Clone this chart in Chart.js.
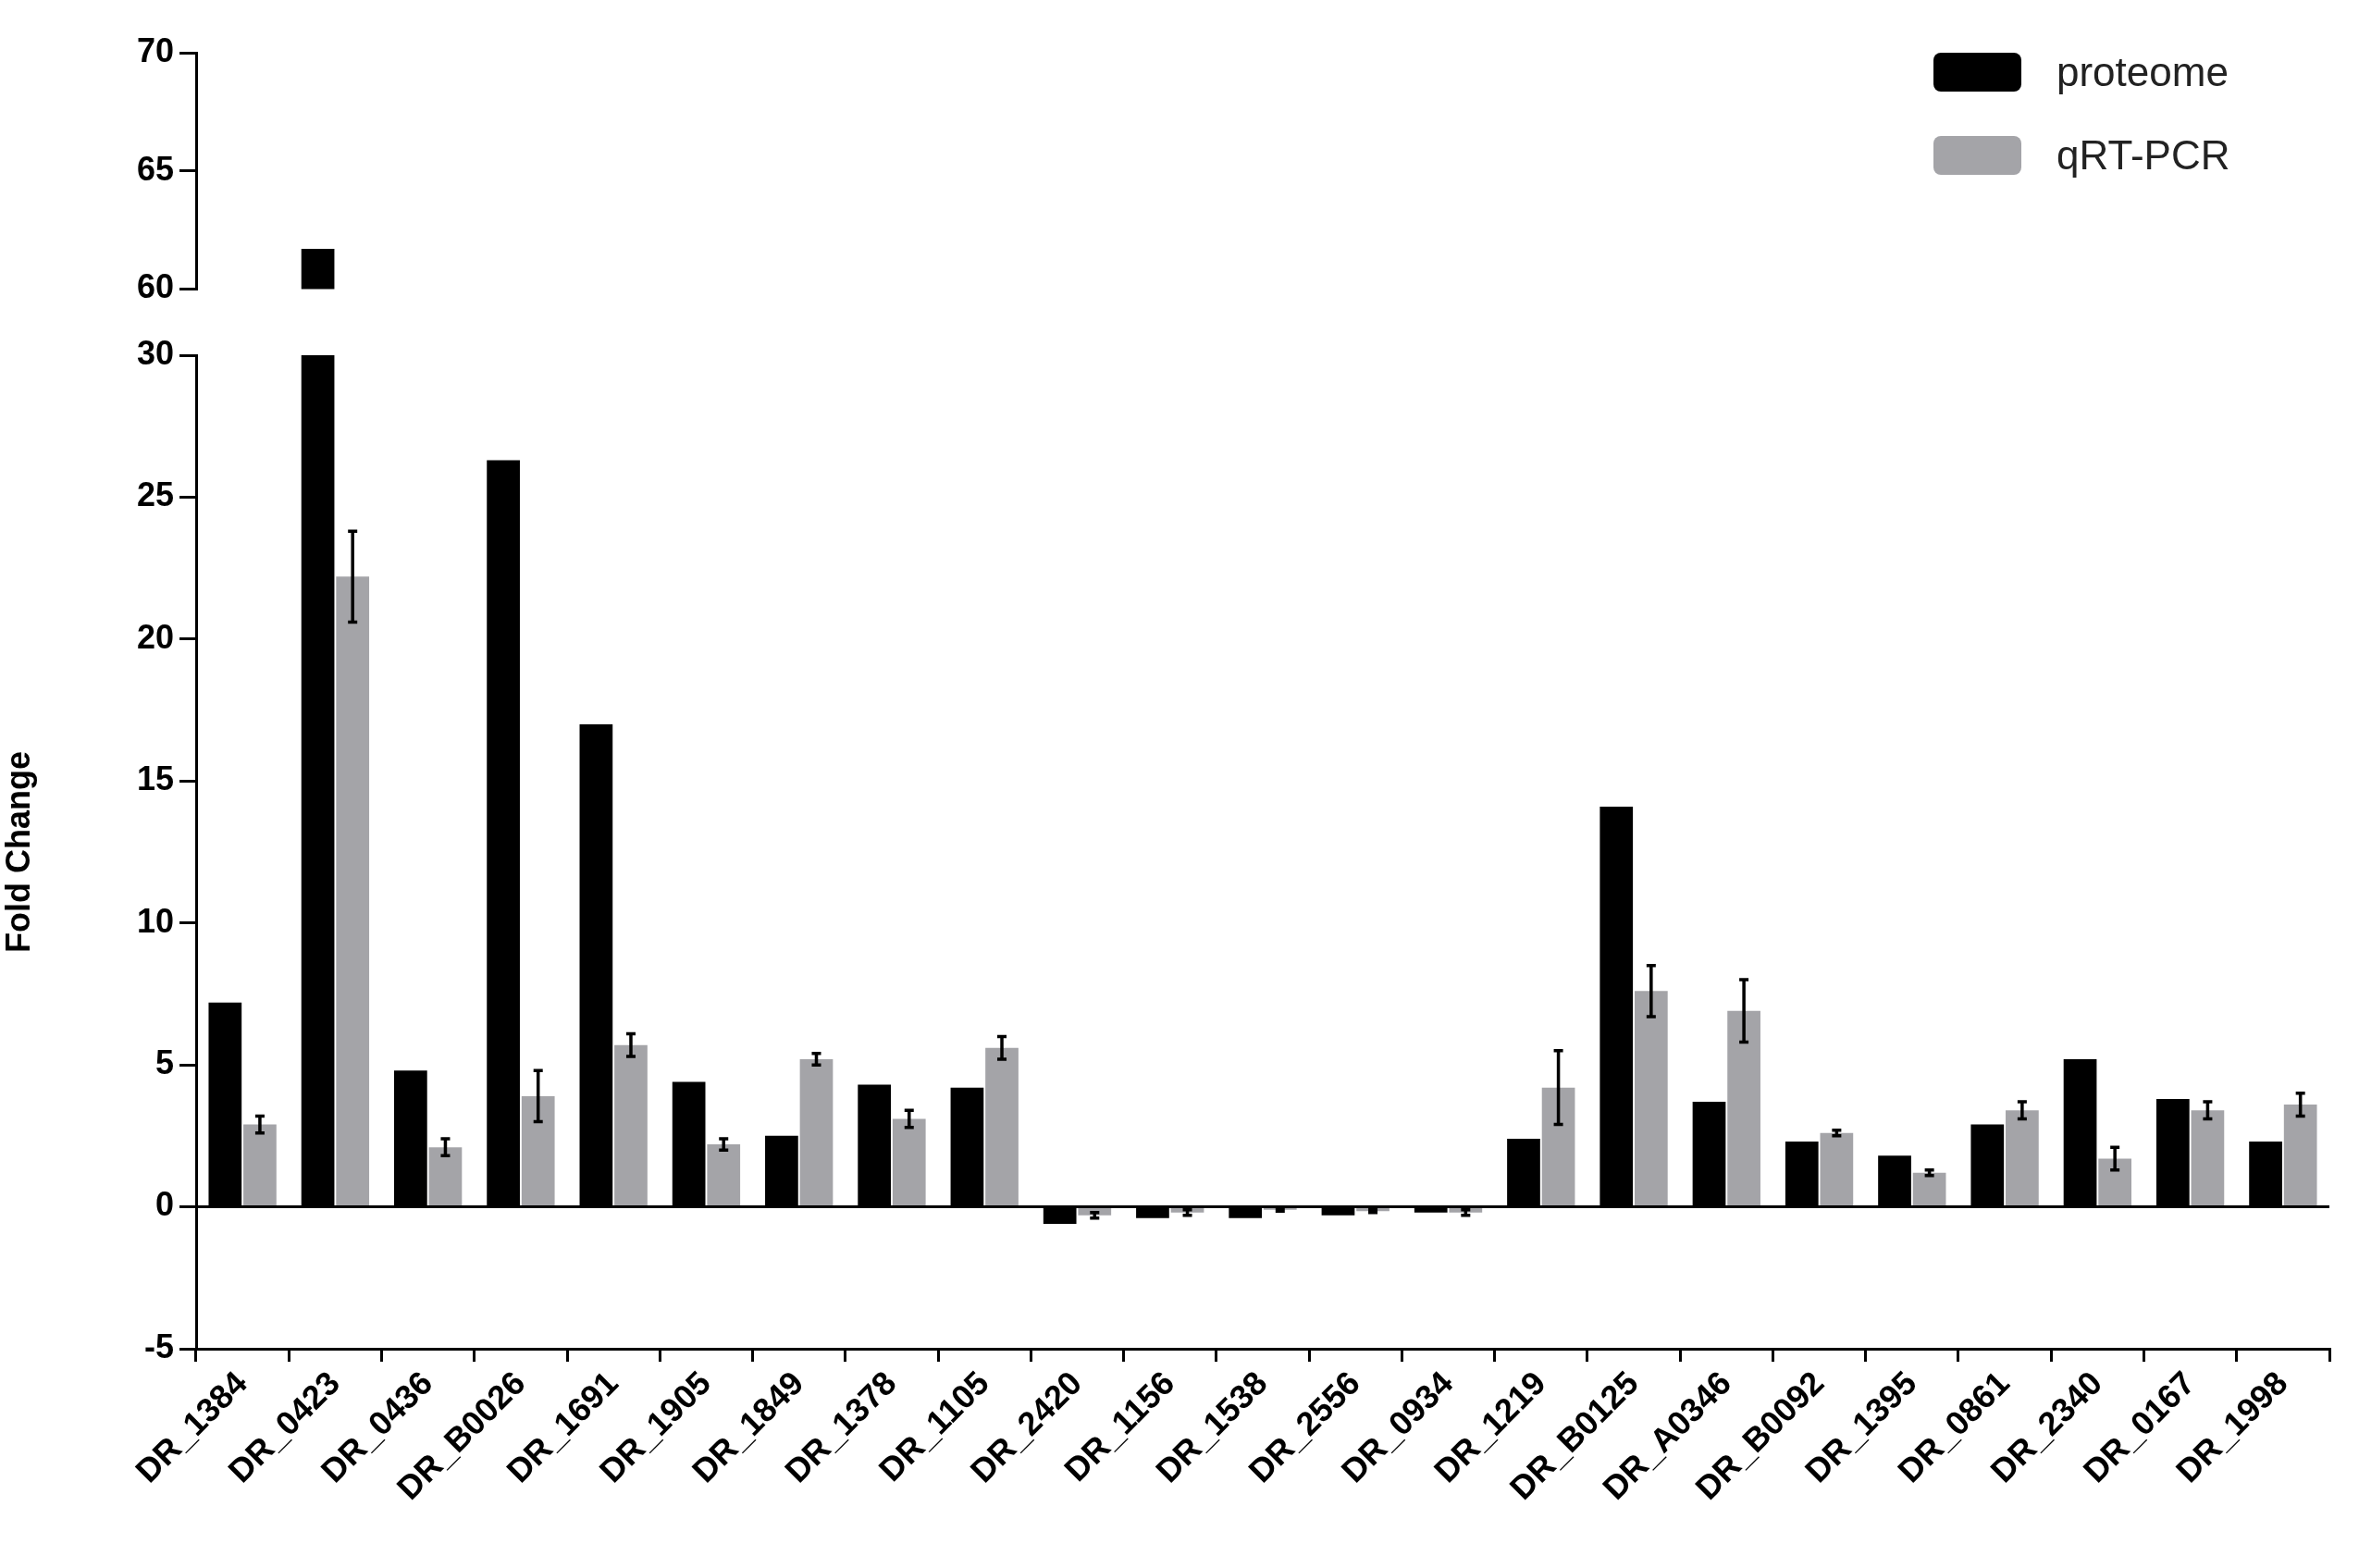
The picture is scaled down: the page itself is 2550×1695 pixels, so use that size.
<!DOCTYPE html>
<html><head><meta charset="utf-8">
<script src="https://cdn.jsdelivr.net/npm/chart.js@4"></script>
<style>
body{margin:0;background:#fff;font-family:"Liberation Sans",Arial,sans-serif}
#wrap{position:relative;width:2550px;height:1695px}
#c1{position:absolute;left:0;top:0}
#c2{position:absolute;left:0;top:340px}
#legend{position:absolute;left:2090px;top:48px;font-size:44px;color:#222}
#legend div{display:flex;align-items:center;height:104px}
#legend span.sw{display:inline-block;width:95px;height:42px;border-radius:8px;margin-right:38px}
</style></head><body>
<div id="wrap">
<canvas id="c1" width="2550" height="340"></canvas>
<canvas id="c2" width="2550" height="1355"></canvas>
<div id="legend">
<div style="height:60px"><span class="sw" style="background:#000"></span>proteome</div>
<div style="height:120px"><span class="sw" style="background:#a4a4a8"></span>qRT-PCR</div>
</div>
</div>
<script>
const genes = ["DR_1384","DR_0423","DR_0436","DR_B0026","DR_1691","DR_1905","DR_1849","DR_1378","DR_1105","DR_2420","DR_1156","DR_1538","DR_2556","DR_0934","DR_1219","DR_B0125","DR_A0346","DR_B0092","DR_1395","DR_0861","DR_2340","DR_0167","DR_1998"];
const proteome = [7.2,61.7,4.8,26.3,17.0,4.4,2.5,4.3,4.2,-0.6,-0.4,-0.4,-0.3,-0.2,2.4,14.1,3.7,2.3,1.8,2.9,5.2,3.8,2.3];
const qpcr = [2.9,22.2,2.1,3.9,5.7,2.2,5.2,3.1,5.6,-0.3,-0.2,-0.1,-0.15,-0.2,4.2,7.6,6.9,2.6,1.2,3.4,1.7,3.4,3.6];
const qpcrErr = [0.3,1.6,0.3,0.9,0.4,0.2,0.2,0.3,0.4,0.1,0.1,0.05,0.05,0.1,1.3,0.9,1.1,0.1,0.1,0.3,0.4,0.3,0.4];

const font = {family:"'Liberation Sans', Arial, sans-serif", size:36, weight:"bold"};

function datasets() {
  return [
    {label:"proteome", data:proteome, backgroundColor:"#000", categoryPercentage:0.75, barPercentage:0.95},
    {label:"qRT-PCR", data:qpcr, backgroundColor:"#a4a4a8", categoryPercentage:0.75, barPercentage:0.95}
  ];
}

const errorBars = {
  id:"errorBars",
  afterDatasetsDraw(chart) {
    const ctx = chart.ctx, y = chart.scales.y, meta = chart.getDatasetMeta(1);
    ctx.save();
    ctx.strokeStyle = "#000"; ctx.lineWidth = 3.5;
    meta.data.forEach((bar, i) => {
      const hi = y.getPixelForValue(qpcr[i] + qpcrErr[i]);
      const lo = y.getPixelForValue(qpcr[i] - qpcrErr[i]);
      ctx.beginPath();
      ctx.moveTo(bar.x, hi); ctx.lineTo(bar.x, lo);
      ctx.moveTo(bar.x - 5, hi); ctx.lineTo(bar.x + 5, hi);
      ctx.moveTo(bar.x - 5, lo); ctx.lineTo(bar.x + 5, lo);
      ctx.stroke();
    });
    ctx.restore();
  }
};

const zeroLine = {
  id:"zeroLine",
  afterDatasetsDraw(chart) {
    const ctx = chart.ctx, y = chart.scales.y, a = chart.chartArea;
    const p = y.getPixelForValue(0);
    ctx.save(); ctx.strokeStyle = "#000"; ctx.lineWidth = 3;
    ctx.beginPath(); ctx.moveTo(a.left, p); ctx.lineTo(a.right, p); ctx.stroke();
    ctx.restore();
  }
};

const yBase = {
  afterFit(s) { s.width = 212; },
  grid:{display:true, drawOnChartArea:false, color:"#000", lineWidth:3, tickLength:18},
  border:{color:"#000", width:3},
  ticks:{color:"#000", font:font, stepSize:5, padding:6}
};

new Chart(document.getElementById("c1"), {
  type:"bar",
  data:{labels:genes, datasets:datasets()},
  options:{
    responsive:false, animation:false, devicePixelRatio:1,
    layout:{padding:{top:57, bottom:13, right:32, left:0}},
    plugins:{legend:{display:false}, tooltip:{enabled:false}},
    scales:{
      x:{display:false},
      y:Object.assign({}, yBase, {min:60, max:70})
    }
  }
});

new Chart(document.getElementById("c2"), {
  type:"bar",
  data:{labels:genes, datasets:datasets()},
  options:{
    responsive:false, animation:false, devicePixelRatio:1,
    layout:{padding:{top:44, bottom:0, right:32, left:0}},
    plugins:{legend:{display:false}, tooltip:{enabled:false}},
    scales:{
      x:{
        afterFit(s) { s.height = 237; },
        grid:{display:true, drawOnChartArea:false, color:"#000", lineWidth:3, tickLength:14},
        border:{color:"#000", width:3},
        ticks:{color:"#000", font:font, maxRotation:45, minRotation:45, autoSkip:false}
      },
      y:Object.assign({}, yBase, {
        min:-5, max:30,
        title:{display:true, text:"Fold Change", color:"#000", font:font, padding:0}
      })
    }
  },
  plugins:[zeroLine, errorBars]
});
</script>
</body></html>
